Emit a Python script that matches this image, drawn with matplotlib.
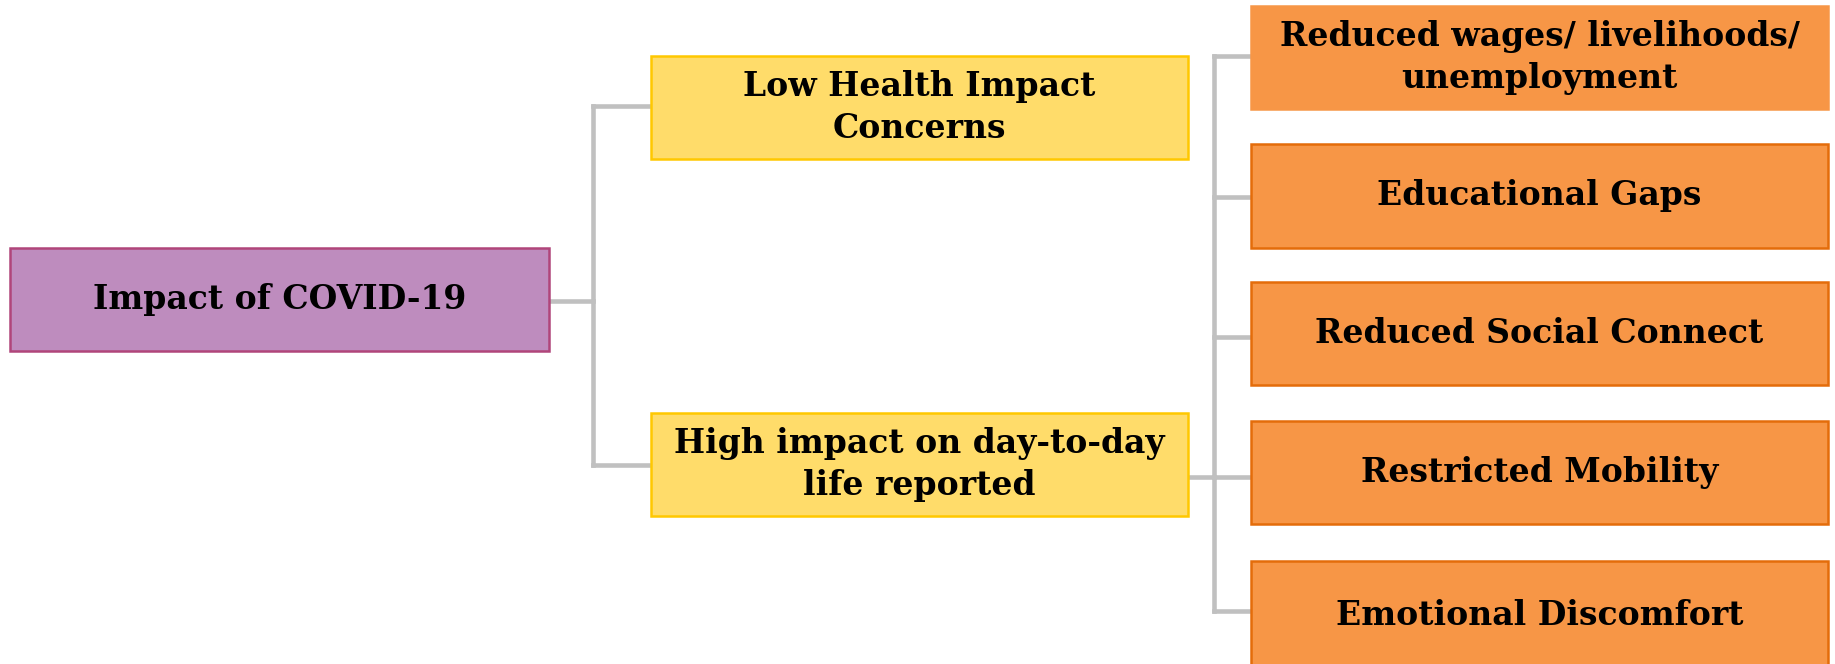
import matplotlib.pyplot as plt
from matplotlib.patches import Rectangle

root_label = "Impact of COVID-19"
mid_labels = ["Low Health Impact\nConcerns", "High impact on day-to-day\nlife reported"]
leaf_labels = ["Reduced wages/ livelihoods/\nunemployment", "Educational Gaps",
               "Reduced Social Connect", "Restricted Mobility", "Emotional Discomfort"]

W, H = 1835, 664
fig = plt.figure(figsize=(W / 100, H / 100), dpi=100)
ax = fig.add_axes([0, 0, 1, 1])
ax.set_xlim(0, W)
ax.set_ylim(H, 0)
ax.axis('off')

LINE = '#c0c0c0'
FONT = dict(family='DejaVu Serif', weight='bold', fontsize=23.8, color='black',
            ha='center', va='center', linespacing=1.32)


def box(x0, y0, x1, y1, label, fc, ec, lw=1.8):
    ax.add_patch(Rectangle((x0, y0), x1 - x0, y1 - y0, facecolor=fc,
                           edgecolor=ec, linewidth=lw, zorder=3))
    ax.text((x0 + x1) / 2, (y0 + y1) / 2, label, zorder=4, **FONT)


def line(xs, ys):
    ax.plot(xs, ys, color=LINE, lw=3.3, solid_capstyle='projecting', zorder=1)


# root
rx0, rx1, ry0, ry1 = 10, 549, 248, 351
box(rx0, ry0, rx1, ry1, root_label, '#be8cbe', '#b0457a')

# middle boxes
mx0, mx1 = 651, 1188
mid_y = [(56, 159), (413, 516)]
for (y0, y1), lab in zip(mid_y, mid_labels):
    box(mx0, y0, mx1, y1, lab, '#ffdc6a', '#ffc800')

# root -> middle connector
vx = 593
line([rx1, vx], [301, 301])
line([vx, vx], [106, 465])
line([vx, mx0], [106, 106])
line([vx, mx0], [465, 465])

# leaf boxes
lx0, lx1 = 1251, 1828
leaf_y = [(6, 109), (144, 248), (282, 385), (421, 524), (561, 670)]
conn_y = [56, 197, 337, 477, 611]
vx2 = 1214
line([mx1, vx2], [477, 477])
line([vx2, vx2], [conn_y[0], conn_y[-1]])
for cy in conn_y:
    line([vx2, lx0], [cy, cy])
for i, ((y0, y1), lab) in enumerate(zip(leaf_y, leaf_labels)):
    ec = '#f79646' if i == 0 else '#e46c0a'
    box(lx0, y0, lx1, y1, lab, '#f79646', ec)

fig.savefig('out.png', dpi=100)
